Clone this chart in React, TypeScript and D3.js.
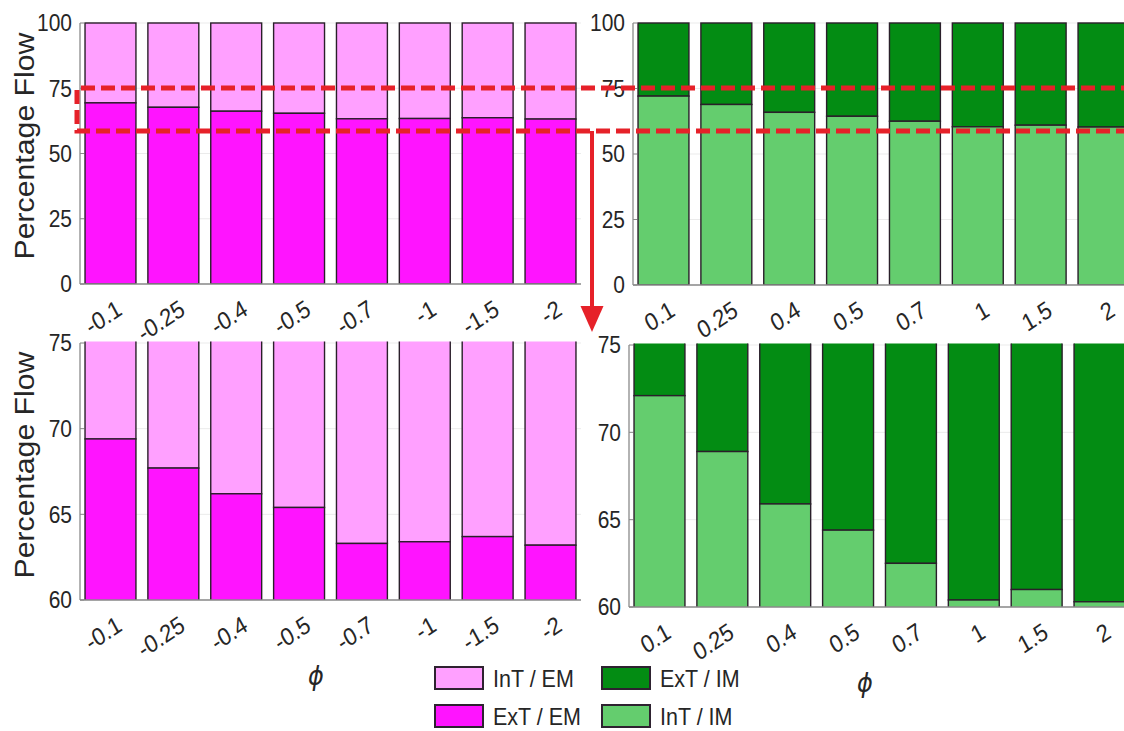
import React from "react";
import * as d3 from "d3";

const phiNeg = ["-0.1", "-0.25", "-0.4", "-0.5", "-0.7", "-1", "-1.5", "-2"];
const phiPos = ["0.1", "0.25", "0.4", "0.5", "0.7", "1", "1.5", "2"];
// ExT / EM share (%) for negative phi
const extEM = [69.4, 67.7, 66.2, 65.4, 63.3, 63.4, 63.7, 63.2];
// InT / IM share (%) for positive phi
const intIM = [72.1, 68.9, 65.9, 64.4, 62.5, 60.4, 61.0, 60.3];

const fullTicks = [0, 25, 50, 75, 100];
const zoomTicks = [60, 65, 70, 75];

const legendItems = [
  { label: "InT / EM", color: "#FFA0FF", col: 0, row: 0 },
  { label: "ExT / EM", color: "#FF14FF", col: 0, row: 1 },
  { label: "ExT / IM", color: "#038C13", col: 1, row: 0 },
  { label: "InT / IM", color: "#64CD6E", col: 1, row: 1 },
];

const FONT = "'Liberation Sans', Arial, Helvetica, sans-serif";
const TXT = "#262626";
const SY = 1.12; // vertical stretch of the original figure's text

type PanelProps = {
  id: string;
  x0: number;
  x1: number;
  yTop: number;
  yBot: number;
  domain: [number, number];
  ticks: number[];
  cats: string[];
  lower: number[];
  lowerColor: string;
  upperColor: string;
  ylabel: boolean;
  ylabelY: number;
  xlabel: boolean;
};

function Panel(p: PanelProps) {
  const x = d3
    .scaleBand<string>()
    .domain(p.cats)
    .range([p.x0, p.x1])
    .paddingInner(0.19)
    .paddingOuter(0.08);
  const y = d3.scaleLinear().domain(p.domain).range([p.yBot, p.yTop]);
  const bw = x.bandwidth();
  const clipId = `clip-${p.id}`;
  return (
    <g>
      <defs>
        <clipPath id={clipId}>
          <rect x={p.x0} y={p.yTop - 1.5} width={p.x1 - p.x0 + 10} height={p.yBot - p.yTop + 1.5} />
        </clipPath>
      </defs>
      {p.ticks.map((t) => (
        <line key={"g" + t} x1={p.x0} x2={p.x1} y1={y(t)} y2={y(t)} stroke="#ebebeb" strokeWidth={1} />
      ))}
      <g clipPath={`url(#${clipId})`}>
        {p.cats.map((c, i) => {
          const v = p.lower[i];
          const bx = x(c) as number;
          return (
            <g key={c}>
              <rect x={bx} y={y(100)} width={bw} height={y(v) - y(100)} fill={p.upperColor} stroke="#2a1f2a" strokeWidth={1.4} />
              <rect x={bx} y={y(v)} width={bw} height={y(0) - y(v)} fill={p.lowerColor} stroke="#2a1f2a" strokeWidth={1.4} />
            </g>
          );
        })}
      </g>
      <line x1={p.x0} x2={p.x0} y1={p.yTop} y2={p.yBot} stroke="#8a8a8a" strokeWidth={1.3} />
      <line x1={p.x0} x2={p.x1} y1={p.yBot} y2={p.yBot} stroke="#8a8a8a" strokeWidth={1.3} />
      {p.ticks.map((t) => (
        <g key={"t" + t}>
          <line x1={p.x0} x2={p.x0 + 4} y1={y(t)} y2={y(t)} stroke="#8a8a8a" strokeWidth={1} />
          <text
            transform={`translate(${p.x0 - 8},${y(t)}) scale(1,${SY})`}
            dy="0.36em"
            textAnchor="end"
            fontSize={21}
            fontFamily={FONT}
            fill={TXT}
          >
            {t}
          </text>
        </g>
      ))}
      {p.cats.map((c) => {
        const cx = (x(c) as number) + bw / 2 + 9;
        const cy = p.yBot + 22;
        return (
          <text
            key={"l" + c}
            transform={`translate(${cx},${cy}) scale(1,${SY}) rotate(-31)`}
            textAnchor="end"
            dy="0.36em"
            fontSize={22}
            fontFamily={FONT}
            fill={TXT}
          >
            {c}
          </text>
        );
      })}
      {p.ylabel && (
        <text
          transform={`translate(34,${p.ylabelY}) rotate(-90) scale(${SY},1)`}
          textAnchor="middle"
          fontSize={27}
          fontFamily={FONT}
          fill={TXT}
        >
          Percentage Flow
        </text>
      )}
      {p.xlabel && (
        <text
          transform={`translate(${p.x0 + 236},${p.yBot + 85}) scale(1,${SY})`}
          textAnchor="middle"
          fontSize={24}
          fontStyle="oblique"
          fontFamily="'DejaVu Sans', sans-serif"
          fill={TXT}
        >
          ϕ
        </text>
      )}
    </g>
  );
}

export default function App() {
  const RED = "#E62129";
  return (
    <div style={{ position: "fixed", left: 0, top: 0 }}>
      <svg width={1124} height={731} viewBox="0 0 1124 731" style={{ display: "block", background: "#fff" }}>
        <Panel id="tl" x0={80} x1={581} yTop={23} yBot={284} domain={[0, 100]} ticks={fullTicks} cats={phiNeg}
          lower={extEM} lowerColor="#FF14FF" upperColor="#FFA0FF" ylabel ylabelY={146} xlabel={false} />
        <Panel id="tr" x0={633} x1={1134} yTop={23} yBot={285} domain={[0, 100]} ticks={fullTicks} cats={phiPos}
          lower={intIM} lowerColor="#64CD6E" upperColor="#038C13" ylabel={false} ylabelY={0} xlabel={false} />
        <Panel id="bl" x0={80} x1={581} yTop={343} yBot={600} domain={[60, 75]} ticks={zoomTicks} cats={phiNeg}
          lower={extEM} lowerColor="#FF14FF" upperColor="#FFA0FF" ylabel ylabelY={465} xlabel />
        <Panel id="br" x0={629} x1={1130} yTop={345} yBot={607} domain={[60, 75]} ticks={zoomTicks} cats={phiPos}
          lower={intIM} lowerColor="#64CD6E" upperColor="#038C13" ylabel={false} ylabelY={0} xlabel />

        {/* zoom indicator */}
        <path d="M1135,88 H77 V131 H1135" fill="none" stroke={RED} strokeWidth={5} strokeDasharray="14 6" />
        <line x1={592} x2={592} y1={131} y2={310} stroke={RED} strokeWidth={4} />
        <polygon points="580.5,306 603.5,306 592,332" fill={RED} />

        {/* legend */}
        {legendItems.map((d) => {
          const bx = d.col === 0 ? 435 : 602;
          const by = d.row === 0 ? 667 : 705;
          return (
            <g key={d.label}>
              <rect x={bx} y={by} width={48} height={22} fill={d.color} stroke="#2e2230" strokeWidth={2} />
              <text
                transform={`translate(${bx + 58},${by + 11}) scale(1,${SY})`}
                dy="0.36em"
                fontSize={21.5}
                fontFamily={FONT}
                fill={TXT}
              >
                {d.label}
              </text>
            </g>
          );
        })}
      </svg>
    </div>
  );
}
